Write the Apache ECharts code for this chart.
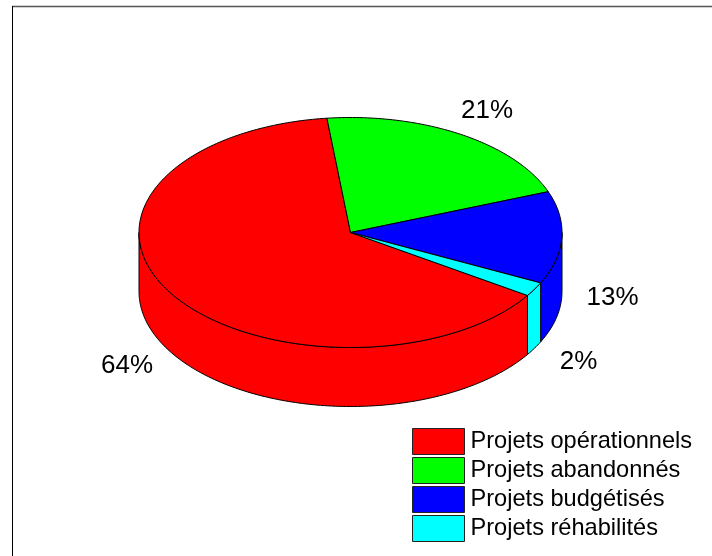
<!DOCTYPE html>
<html><head><meta charset="utf-8">
<style>html,body{margin:0;padding:0;background:#fff}#c{width:712px;height:556px}</style>
<script src="https://cdn.jsdelivr.net/npm/echarts@6/dist/echarts.min.js"></script>
</head><body><div id="c"></div>
<script>
const categories = ['Projets opérationnels','Projets abandonnés','Projets budgétisés','Projets réhabilités'];
const percents = [64,21,13,2];
const colors = ['#ff0000','#00ff00','#0000ff','#00ffff'];

const CX=350.5, CY=232.5, RX=211.5, RY=115, DEPTH=59, START=-33.2, LABEL_K=1.24;
const FONT='"Liberation Sans", Arial, sans-serif';
const total = percents.reduce((a,b)=>a+b,0);
const pt=(deg,dy=0)=>[CX+RX*Math.cos(deg*Math.PI/180), CY-RY*Math.sin(deg*Math.PI/180)+dy];

function arcPoints(from,to,dy){ // from > to, clockwise on screen
  const n=Math.max(2,Math.ceil((from-to)));
  const out=[];
  for(let i=0;i<=n;i++) out.push(pt(from+(to-from)*i/n,dy));
  return out;
}
function sliceRender(idx){
  return function(params,api){
    const before=percents.slice(0,idx).reduce((a,b)=>a+b,0);
    const a0=START-before/total*360;
    const a1=a0-api.value(0)/total*360;
    const color=api.visual('color');
    const style={fill:color,stroke:'#000',lineWidth:1};
    const children=[];
    // visible wall: the part of the arc in the lower half (sin<0)
    const windows=[[0,-180],[-360,-540]];
    windows.forEach(w=>{
      const f=Math.min(a0,w[0]), t=Math.max(a1,w[1]);
      if(f>t){
        const top=arcPoints(f,t,0);
        const bot=arcPoints(f,t,DEPTH).reverse();
        children.push({type:'polygon',shape:{points:top.concat(bot)},style,z2:1});
      }
    });
    children.push({type:'polygon',shape:{points:[[CX,CY]].concat(arcPoints(a0,a1,0))},style,z2:2});
    const mid=(a0+a1)/2;
    const sinm=Math.sin(mid*Math.PI/180);
    const lx=CX+RX*LABEL_K*Math.cos(mid*Math.PI/180);
    const ly=CY-RY*LABEL_K*sinm+(sinm<0?DEPTH:0);
    children.push({type:'text',x:lx,y:ly,z2:3,style:{text:api.value(0)+'%',fill:'#000',
      font:'26px '+FONT,align:'center',verticalAlign:'middle'}});
    return {type:'group',children};
  };
}
const chart=echarts.init(document.getElementById('c'),null,{renderer:'canvas'});
chart.setOption({
  animation:false,
  backgroundColor:'#fff',
  color:colors,
  legend:{
    show:true,orient:'vertical',left:412,top:428,itemWidth:52,itemHeight:26,itemGap:2,
    icon:'rect',selectedMode:false,padding:0,
    itemStyle:{borderColor:'#222',borderWidth:1},
    textStyle:{fontFamily:FONT,fontSize:23.6,lineHeight:26,color:'#000',padding:[0,0,0,1]},
    data:categories
  },
  graphic:[
    {type:'line',shape:{x1:12,y1:6.5,x2:712,y2:6.5},style:{stroke:'#555',lineWidth:1.5}},
    {type:'line',shape:{x1:12.5,y1:6,x2:12.5,y2:556},style:{stroke:'#000',lineWidth:1}}
  ],
  series:categories.map((name,i)=>({
    type:'custom',name,coordinateSystem:'none',
    data:[[percents[i]]],
    renderItem:sliceRender(i)
  }))
});
</script></body></html>
